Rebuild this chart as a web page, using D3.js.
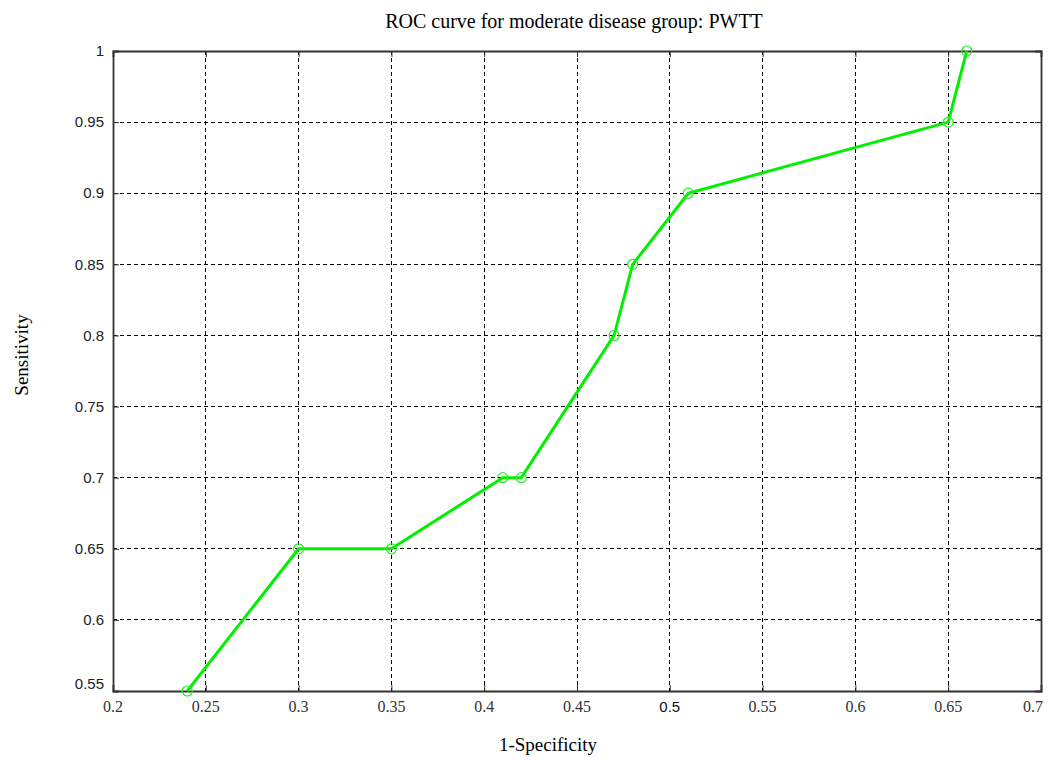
<!DOCTYPE html>
<html>
<head>
<meta charset="utf-8">
<script src="https://cdn.jsdelivr.net/npm/d3@7/dist/d3.min.js"></script>
<style>
  html, body { margin: 0; padding: 0; background: #fff; }
  svg { display: block; }
</style>
</head>
<body>
<svg id="chart" width="1049" height="760"></svg>
<script>
// ---- data ----
const fpr = [0.24, 0.30, 0.35, 0.41, 0.42, 0.47, 0.48, 0.51, 0.65, 0.66];
const tpr = [0.55, 0.65, 0.65, 0.70, 0.70, 0.80, 0.85, 0.90, 0.95, 1.00];
const xTicks = [0.2, 0.25, 0.3, 0.35, 0.4, 0.45, 0.5, 0.55, 0.6, 0.65, 0.7];
const xTickLabels = ["0.2", "0.25", "0.3", "0.35", "0.4", "0.45", "0.5", "0.55", "0.6", "0.65", "0.7"];
const yTicks = [0.55, 0.6, 0.65, 0.7, 0.75, 0.8, 0.85, 0.9, 0.95, 1];
const yTickLabels = ["0.55", "0.6", "0.65", "0.7", "0.75", "0.8", "0.85", "0.9", "0.95", "1"];
const titleText = "ROC curve for moderate disease group: PWTT";
const xLabel = "1-Specificity";
const yLabel = "Sensitivity";

// ---- layout ----
const svg = d3.select("#chart");
const L = 113, R = 1041, T = 51, B = 691;
const x = d3.scaleLinear().domain([0.2, 0.7]).range([L, R]);
const y = d3.scaleLinear().domain([0.55, 1]).range([B, T]);
const serif = "'Liberation Serif', 'Times New Roman', serif";
const sans = "'Liberation Sans', Arial, sans-serif";

// grid
const grid = svg.append("g");
grid.selectAll("line.vx").data(xTicks.slice(1, -1)).join("line")
  .attr("x1", d => x(d)).attr("x2", d => x(d))
  .attr("y1", T).attr("y2", B)
  .attr("stroke", "#000").attr("stroke-width", 1)
  .attr("stroke-dasharray", "4,3").attr("shape-rendering", "crispEdges");
grid.selectAll("line.hy").data(yTicks.slice(1, -1)).join("line")
  .attr("x1", L).attr("x2", R)
  .attr("y1", d => y(d)).attr("y2", d => y(d))
  .attr("stroke", "#000").attr("stroke-width", 1)
  .attr("stroke-dasharray", "4,3").attr("shape-rendering", "crispEdges");

// axes (box)
const xAxisB = d3.axisBottom(x).tickValues(xTicks).tickSize(-6).tickPadding(0).tickFormat("");
const yAxisL = d3.axisLeft(y).tickValues(yTicks).tickSize(-6).tickPadding(0).tickFormat("");
const xAxisT = d3.axisTop(x).tickValues(xTicks).tickSize(-6).tickFormat("");
const yAxisR = d3.axisRight(y).tickValues(yTicks).tickSize(-6).tickFormat("");
[[xAxisB, `translate(0,${B})`], [xAxisT, `translate(0,${T})`], [yAxisL, `translate(${L},0)`], [yAxisR, `translate(${R},0)`]]
  .forEach(([ax, tr]) => {
    const g = svg.append("g").attr("transform", tr).call(ax);
    g.select(".domain").attr("stroke", "#333").attr("stroke-width", 1.8);
    g.selectAll(".tick line").attr("stroke", "#333");
  });

// x tick labels
const lastX = xTicks.length - 1;
svg.append("g").selectAll("text").data(xTicks).join("text")
  .attr("x", (d, i) => i === lastX ? x(d) + 2 : x(d)).attr("y", 712)
  .attr("text-anchor", (d, i) => i === lastX ? "end" : "middle")
  .attr("font-family", (d, i) => xTickLabels[i] === "0.5" ? sans : serif)
  .attr("font-size", (d, i) => xTickLabels[i] === "0.5" ? 15 : 16)
  .attr("fill", (d, i) => xTickLabels[i] === "0.5" ? "#111" : "#333")
  .text((d, i) => xTickLabels[i]);

// y tick labels
svg.append("g").selectAll("text").data(yTicks).join("text")
  .attr("x", 104).attr("y", (d, i) => y(d) + (i === 0 ? -7 : 0))
  .attr("dy", "0.35em")
  .attr("text-anchor", "end")
  .attr("font-family", sans).attr("font-size", 15).attr("fill", "#222")
  .text((d, i) => yTickLabels[i]);

// line + markers
const pts = fpr.map((v, i) => [v, tpr[i]]);
svg.append("path").datum(pts)
  .attr("d", d3.line().x(d => x(d[0])).y(d => y(d[1])))
  .attr("fill", "none").attr("stroke", "#00f000").attr("stroke-width", 3)
  .attr("stroke-linejoin", "round");
svg.append("g").selectAll("circle").data(pts).join("circle")
  .attr("cx", d => x(d[0])).attr("cy", d => y(d[1])).attr("r", 5)
  .attr("fill", "none").attr("stroke", "#22ee22").attr("stroke-width", 1.2);

// title & labels
svg.append("text").attr("x", 574).attr("y", 28).attr("text-anchor", "middle")
  .attr("font-family", serif).attr("font-size", 20).attr("fill", "#000").text(titleText);
svg.append("text").attr("x", 548).attr("y", 751).attr("text-anchor", "middle")
  .attr("font-family", serif).attr("font-size", 19).attr("fill", "#000").text(xLabel);
svg.append("text").attr("transform", "translate(28,355) rotate(-90)").attr("text-anchor", "middle")
  .attr("font-family", serif).attr("font-size", 19).attr("fill", "#000").text(yLabel);
</script>
</body>
</html>
